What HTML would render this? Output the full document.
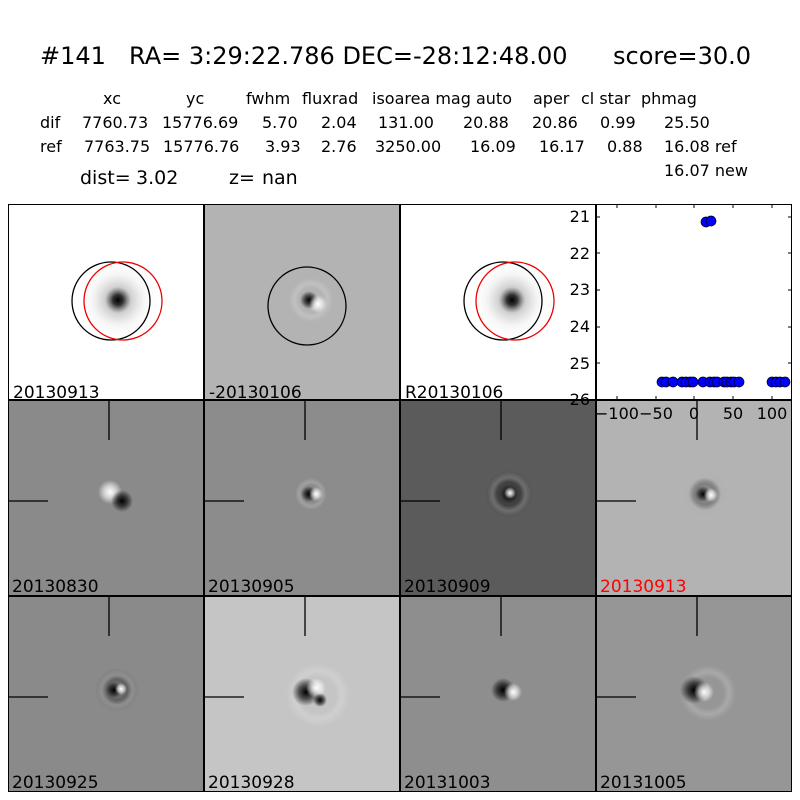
<!DOCTYPE html>
<html><head><style>body{margin:0;background:#fff}svg{display:block}</style></head><body>
<svg width="800" height="800" xmlns="http://www.w3.org/2000/svg" font-family="DejaVu Sans, Liberation Sans, sans-serif">
<defs>
<radialGradient id="star"><stop offset="0" stop-color="#000"/><stop offset="0.12" stop-color="#333"/><stop offset="0.3" stop-color="#bbb" stop-opacity="0.7"/><stop offset="0.6" stop-color="#eee" stop-opacity="0.5"/><stop offset="1" stop-color="#fff" stop-opacity="0"/></radialGradient>
<radialGradient id="dk"><stop offset="0" stop-color="#000"/><stop offset="0.5" stop-color="#000" stop-opacity="0.6"/><stop offset="1" stop-color="#000" stop-opacity="0"/></radialGradient>
<radialGradient id="wt"><stop offset="0" stop-color="#fff"/><stop offset="0.5" stop-color="#fff" stop-opacity="0.6"/><stop offset="1" stop-color="#fff" stop-opacity="0"/></radialGradient>
<radialGradient id="ring"><stop offset="0" stop-color="#fff" stop-opacity="0"/><stop offset="0.55" stop-color="#fff" stop-opacity="0"/><stop offset="0.75" stop-color="#fff" stop-opacity="0.18"/><stop offset="1" stop-color="#fff" stop-opacity="0"/></radialGradient>
<radialGradient id="dring"><stop offset="0" stop-color="#000" stop-opacity="0"/><stop offset="0.45" stop-color="#000" stop-opacity="0.3"/><stop offset="0.75" stop-color="#000" stop-opacity="0.1"/><stop offset="1" stop-color="#000" stop-opacity="0"/></radialGradient>
</defs>
<g font-size="24" fill="#000">
<text x="40" y="64">#141</text>
<text x="129" y="64">RA= 3:29:22.786 DEC=-28:12:48.00</text>
<text x="613" y="64">score=30.0</text>
</g>
<g font-size="16">
<text x="103" y="104">xc</text><text x="186" y="104">yc</text><text x="246" y="104">fwhm</text><text x="302" y="104">fluxrad</text><text x="372" y="104">isoarea mag auto</text><text x="533" y="104">aper</text><text x="581" y="104">cl star</text><text x="641" y="104">phmag</text>
<text x="40" y="128">dif</text><text x="82" y="128">7760.73</text><text x="162" y="128">15776.69</text><text x="262" y="128">5.70</text><text x="321" y="128">2.04</text><text x="378" y="128">131.00</text><text x="463" y="128">20.88</text><text x="532" y="128">20.86</text><text x="600" y="128">0.99</text><text x="664" y="128">25.50</text>
<text x="40" y="152">ref</text><text x="84" y="152">7763.75</text><text x="163" y="152">15776.76</text><text x="265" y="152">3.93</text><text x="321" y="152">2.76</text><text x="375" y="152">3250.00</text><text x="470" y="152">16.09</text><text x="539" y="152">16.17</text><text x="607" y="152">0.88</text><text x="664" y="152">16.08 ref</text>
<text x="664" y="176">16.07 new</text>
</g>
<g font-size="19"><text x="80" y="184">dist=</text><text x="136" y="184">3.02</text><text x="229" y="184">z=</text><text x="262" y="184">nan</text></g>

<!-- row 1 -->
<rect x="8" y="204" width="196" height="196" fill="#fff"/>
<circle cx="118" cy="300" r="44" fill="url(#star)"/>
<circle cx="111" cy="301" r="39" fill="none" stroke="#000" stroke-width="1.3"/>
<circle cx="123" cy="301" r="39" fill="none" stroke="#e00" stroke-width="1.3"/>
<rect x="204" y="204" width="196" height="196" fill="#b3b3b3"/>
<circle cx="311" cy="300" r="22" fill="url(#ring)"/>
<circle cx="309" cy="300" r="9" fill="url(#dk)"/><circle cx="318" cy="304" r="9" fill="url(#wt)"/>
<circle cx="307" cy="306" r="39" fill="none" stroke="#000" stroke-width="1.3"/>
<rect x="400" y="204" width="196" height="196" fill="#fff"/>
<circle cx="512" cy="300" r="44" fill="url(#star)"/>
<circle cx="503" cy="301" r="39" fill="none" stroke="#000" stroke-width="1.3"/>
<circle cx="515" cy="301" r="39" fill="none" stroke="#e00" stroke-width="1.3"/>
<rect x="596" y="204" width="196" height="196" fill="#fff"/>

<!-- row 2 -->
<rect x="8" y="400" width="196" height="196" fill="#8a8a8a"/>
<circle cx="110" cy="492" r="12" fill="url(#wt)"/><circle cx="122" cy="501" r="11" fill="url(#dk)"/>
<rect x="204" y="400" width="196" height="196" fill="#8c8c8c"/>
<circle cx="311" cy="494" r="16" fill="url(#ring)"/><circle cx="309" cy="494" r="8" fill="url(#dk)"/><circle cx="316" cy="494" r="7" fill="url(#wt)"/>
<rect x="400" y="400" width="196" height="196" fill="#5b5b5b"/>
<circle cx="509" cy="494" r="24" fill="url(#dring)"/><circle cx="509" cy="494" r="22" fill="url(#ring)"/><circle cx="509" cy="494" r="10" fill="url(#dk)"/><circle cx="510" cy="493" r="6" fill="url(#wt)"/>
<rect x="596" y="400" width="196" height="196" fill="#b3b3b3"/>
<circle cx="705" cy="494" r="22" fill="url(#dring)"/><circle cx="705" cy="494" r="22" fill="url(#ring)"/><circle cx="703" cy="494" r="8" fill="url(#dk)"/><circle cx="711" cy="495" r="7" fill="url(#wt)"/>

<!-- row 3 -->
<rect x="8" y="596" width="196" height="196" fill="#8a8a8a"/>
<circle cx="117" cy="690" r="22" fill="url(#dring)"/><circle cx="117" cy="690" r="20" fill="url(#ring)"/><circle cx="114" cy="690" r="8" fill="url(#dk)"/><circle cx="121" cy="689" r="6" fill="url(#wt)"/>
<rect x="204" y="596" width="196" height="196" fill="#c5c5c5"/>
<circle cx="318" cy="695" r="32" fill="url(#ring)"/><circle cx="306" cy="692" r="14" fill="url(#dk)"/><circle cx="316" cy="688" r="10" fill="url(#wt)"/><circle cx="320" cy="700" r="7" fill="url(#dk)"/>
<rect x="400" y="596" width="196" height="196" fill="#8e8e8e"/>
<circle cx="503" cy="690" r="12" fill="url(#dk)"/><circle cx="513" cy="692" r="9" fill="url(#wt)"/>
<rect x="596" y="596" width="196" height="196" fill="#969696"/>
<circle cx="708" cy="693" r="28" fill="url(#ring)"/><circle cx="694" cy="690" r="14" fill="url(#dk)"/><circle cx="704" cy="692" r="10" fill="url(#wt)"/>

<!-- crosshairs -->
<g stroke="#000" stroke-width="1.3">
<line x1="109" y1="400" x2="109" y2="440"/><line x1="8" y1="501" x2="48" y2="501"/>
<line x1="305" y1="400" x2="305" y2="440"/><line x1="204" y1="501" x2="244" y2="501"/>
<line x1="501" y1="400" x2="501" y2="440"/><line x1="400" y1="501" x2="440" y2="501"/>
<line x1="697" y1="400" x2="697" y2="440"/><line x1="596" y1="501" x2="636" y2="501"/>
<line x1="109" y1="596" x2="109" y2="636"/><line x1="8" y1="697" x2="48" y2="697"/>
<line x1="305" y1="596" x2="305" y2="636"/><line x1="204" y1="697" x2="244" y2="697"/>
<line x1="501" y1="596" x2="501" y2="636"/><line x1="400" y1="697" x2="440" y2="697"/>
<line x1="697" y1="596" x2="697" y2="636"/><line x1="596" y1="697" x2="636" y2="697"/>
</g>

<!-- panel frames -->
<g fill="none" stroke="#000" stroke-width="1">
<rect x="8.5" y="204.5" width="195" height="195"/><rect x="204.5" y="204.5" width="195" height="195"/><rect x="400.5" y="204.5" width="195" height="195"/>
<rect x="8.5" y="400.5" width="195" height="195"/><rect x="204.5" y="400.5" width="195" height="195"/><rect x="400.5" y="400.5" width="195" height="195"/><rect x="596.5" y="400.5" width="195" height="195"/>
<rect x="8.5" y="596.5" width="195" height="195"/><rect x="204.5" y="596.5" width="195" height="195"/><rect x="400.5" y="596.5" width="195" height="195"/><rect x="596.5" y="596.5" width="195" height="195"/>
</g>

<!-- scatter -->
<g fill="#0000ff" stroke="#000" stroke-width="0.7">
<circle cx="706" cy="222" r="5"/><circle cx="711" cy="221" r="5"/>
<circle cx="662" cy="382" r="5"/><circle cx="666" cy="382" r="5"/><circle cx="673" cy="382" r="5"/><circle cx="682" cy="382" r="5"/><circle cx="686" cy="382" r="5"/><circle cx="690" cy="382" r="5"/><circle cx="693" cy="382" r="5"/><circle cx="703" cy="382" r="5"/><circle cx="710" cy="382" r="5"/><circle cx="714" cy="382" r="5"/><circle cx="717" cy="382" r="5"/><circle cx="724" cy="382" r="5"/><circle cx="727" cy="382" r="5"/><circle cx="731" cy="382" r="5"/><circle cx="734" cy="382" r="5"/><circle cx="739" cy="382" r="5"/>
<circle cx="772" cy="382" r="5"/><circle cx="776" cy="382" r="5"/><circle cx="780" cy="382" r="5"/><circle cx="785" cy="382" r="5"/>
</g>
<g stroke="#000" stroke-width="1">
<rect x="596.5" y="204.5" width="195" height="195" fill="none"/>
<line x1="617" y1="204" x2="617" y2="208"/><line x1="656" y1="204" x2="656" y2="208"/><line x1="694" y1="204" x2="694" y2="208"/><line x1="733" y1="204" x2="733" y2="208"/><line x1="772" y1="204" x2="772" y2="208"/>
<line x1="617" y1="400" x2="617" y2="396"/><line x1="656" y1="400" x2="656" y2="396"/><line x1="694" y1="400" x2="694" y2="396"/><line x1="733" y1="400" x2="733" y2="396"/><line x1="772" y1="400" x2="772" y2="396"/>
<line x1="596" y1="217" x2="600" y2="217"/><line x1="596" y1="253" x2="600" y2="253"/><line x1="596" y1="290" x2="600" y2="290"/><line x1="596" y1="327" x2="600" y2="327"/><line x1="596" y1="363" x2="600" y2="363"/>
<line x1="792" y1="217" x2="788" y2="217"/><line x1="792" y1="253" x2="788" y2="253"/><line x1="792" y1="290" x2="788" y2="290"/><line x1="792" y1="327" x2="788" y2="327"/><line x1="792" y1="363" x2="788" y2="363"/>
</g>
<g font-size="16" text-anchor="end">
<text x="590" y="222">21</text><text x="590" y="259">22</text><text x="590" y="295">23</text><text x="590" y="332">24</text><text x="590" y="369">25</text><text x="590" y="405">26</text>
</g>
<g font-size="16" text-anchor="middle">
<text x="617" y="419">−100</text><text x="656" y="419">−50</text><text x="694" y="419">0</text><text x="733" y="419">50</text><text x="772" y="419">100</text>
</g>

<!-- labels -->
<g font-size="17">
<text x="13" y="398">20130913</text><text x="209" y="398">-20130106</text><text x="405" y="398">R20130106</text>
<text x="12" y="592">20130830</text><text x="208" y="592">20130905</text><text x="404" y="592">20130909</text><text x="600" y="592" fill="#f00">20130913</text>
<text x="12" y="788">20130925</text><text x="208" y="788">20130928</text><text x="404" y="788">20131003</text><text x="600" y="788">20131005</text>
</g>
</svg>
</body></html>
